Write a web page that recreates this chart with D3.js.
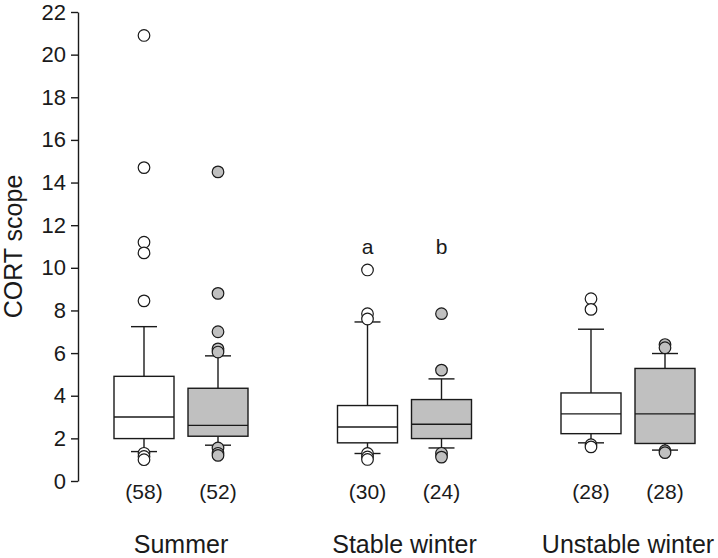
<!DOCTYPE html>
<html>
<head>
<meta charset="utf-8">
<script src="https://cdn.jsdelivr.net/npm/d3@7"></script>
<style>
  html, body { margin: 0; padding: 0; background: #fff; }
  svg { display: block; }
  text { font-family: "Liberation Sans", Arial, sans-serif; fill: #1a1a1a; }
</style>
</head>
<body>
<svg id="chart" width="718" height="558"></svg>
<script>
// ---- data ----
const groups = ["Summer", "Stable winter", "Unstable winter"];
const seriesNames = ["open", "filled"];
const counts = [[58, 52], [30, 24], [28, 28]];
const lowerWhisker = [[1.38, 1.68], [1.29, 1.55], [1.79, 1.45]];
const q1 = [[1.99, 2.10], [1.79, 1.99], [2.22, 1.76]];
const medians = [[3.00, 2.61], [2.53, 2.66], [3.15, 3.15]];
const q3 = [[4.91, 4.35], [3.54, 3.82], [4.13, 5.28]];
const upperWhisker = [[7.24, 5.87], [7.46, 4.79], [7.12, 5.98]];
const outliers = [
  [[20.9, 14.7, 11.2, 10.7, 8.45, 1.3, 1.15, 1.0], [14.5, 8.8, 7.0, 6.2, 6.05, 1.55, 1.3, 1.2]],
  [[9.9, 7.85, 7.6, 1.29, 1.13, 1.01], [7.85, 5.2, 1.3, 1.12]],
  [[8.55, 8.05, 1.7, 1.6], [6.4, 6.25, 1.42, 1.33]]
];
const sigLetters = [["", ""], ["a", "b"], ["", ""]];
const yTicks = [0, 2, 4, 6, 8, 10, 12, 14, 16, 18, 20, 22];
const yLabel = "CORT scope";

// ---- layout ----
const svg = d3.select("#chart");
const ink = "#1a1a1a";
const fills = { open: "#ffffff", filled: "#c0c0c0" };

const y = d3.scaleLinear().domain([0, 22]).range([481, 12]);
const xGroup = d3.scalePoint().domain(groups).range([181, 628]);
const xSub = d3.scalePoint().domain(seriesNames).range([-37, 37]);
const boxW = 60, capW = 26, r = 5.8;

// y axis
const axisX = 78;
const yAxis = d3.axisLeft(y).tickValues(yTicks).tickSize(7).tickPadding(5).tickSizeOuter(0);
const ga = svg.append("g").attr("transform", `translate(${axisX},0)`).call(yAxis);
ga.select(".domain").attr("stroke", ink).attr("stroke-width", 1.4);
ga.selectAll(".tick line").attr("stroke", ink).attr("stroke-width", 1.4);
ga.selectAll(".tick text").attr("font-size", 22).attr("fill", ink)
  .style("font-family", '"Liberation Sans", Arial, sans-serif');

svg.append("text")
  .attr("transform", `translate(22,${y(11)}) rotate(-90)`)
  .attr("text-anchor", "middle")
  .attr("font-size", 25)
  .text(yLabel);

// boxes
const boxes = [];
groups.forEach((g, gi) => {
  seriesNames.forEach((s, si) => {
    boxes.push({
      g, s, cx: xGroup(g) + xSub(s),
      lw: lowerWhisker[gi][si], q1: q1[gi][si], med: medians[gi][si],
      q3: q3[gi][si], uw: upperWhisker[gi][si], out: outliers[gi][si],
      n: counts[gi][si], letter: sigLetters[gi][si]
    });
  });
});

const gb = svg.selectAll(".box").data(boxes).join("g").attr("class", "box");

// whiskers
gb.append("line").attr("x1", d => d.cx).attr("x2", d => d.cx)
  .attr("y1", d => y(d.q3)).attr("y2", d => y(d.uw))
  .attr("stroke", ink).attr("stroke-width", 1.4);
gb.append("line").attr("x1", d => d.cx).attr("x2", d => d.cx)
  .attr("y1", d => y(d.q1)).attr("y2", d => y(d.lw))
  .attr("stroke", ink).attr("stroke-width", 1.4);
gb.append("line").attr("x1", d => d.cx - capW / 2).attr("x2", d => d.cx + capW / 2)
  .attr("y1", d => y(d.uw)).attr("y2", d => y(d.uw))
  .attr("stroke", ink).attr("stroke-width", 1.4);
gb.append("line").attr("x1", d => d.cx - capW / 2).attr("x2", d => d.cx + capW / 2)
  .attr("y1", d => y(d.lw)).attr("y2", d => y(d.lw))
  .attr("stroke", ink).attr("stroke-width", 1.4);

// box
gb.append("rect")
  .attr("x", d => d.cx - boxW / 2).attr("width", boxW)
  .attr("y", d => y(d.q3)).attr("height", d => y(d.q1) - y(d.q3))
  .attr("fill", d => fills[d.s]).attr("stroke", ink).attr("stroke-width", 1.4);
gb.append("line").attr("x1", d => d.cx - boxW / 2).attr("x2", d => d.cx + boxW / 2)
  .attr("y1", d => y(d.med)).attr("y2", d => y(d.med))
  .attr("stroke", ink).attr("stroke-width", 1.4);

// outliers
gb.selectAll("circle").data(d => d.out.map(v => ({ v, cx: d.cx, s: d.s })))
  .join("circle")
  .attr("cx", d => d.cx).attr("cy", d => y(d.v)).attr("r", r)
  .attr("fill", d => fills[d.s]).attr("stroke", ink).attr("stroke-width", 1.2);

// counts
gb.append("text").attr("x", d => d.cx).attr("y", 499)
  .attr("text-anchor", "middle").attr("font-size", 21)
  .text(d => `(${d.n})`);

// significance letters
gb.filter(d => d.letter).append("text").attr("x", d => d.cx).attr("y", y(11) + 7)
  .attr("text-anchor", "middle").attr("font-size", 21)
  .text(d => d.letter);

// group labels
svg.selectAll(".glabel").data(groups).join("text").attr("class", "glabel")
  .attr("x", d => xGroup(d)).attr("y", 553)
  .attr("text-anchor", "middle").attr("font-size", 25)
  .text(d => d);
</script>
</body>
</html>
